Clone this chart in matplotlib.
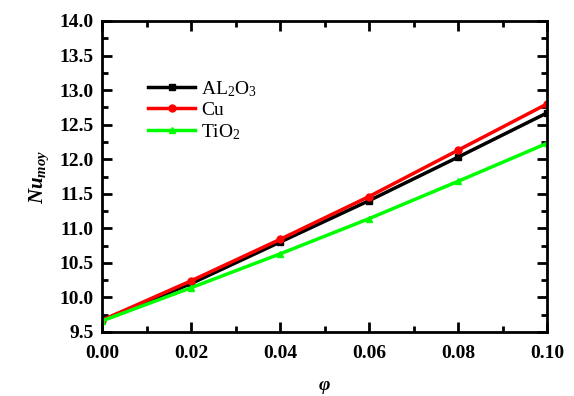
import matplotlib
matplotlib.use("Agg")
import matplotlib.pyplot as plt
from matplotlib.ticker import MultipleLocator

phi = [0.00, 0.02, 0.04, 0.06, 0.08, 0.10]
al2o3 = [9.67, 10.20, 10.80, 11.40, 12.03, 12.67]
cu = [9.67, 10.24, 10.84, 11.46, 12.13, 12.80]
tio2 = [9.66, 10.14, 10.63, 11.14, 11.68, 12.23]

plt.rcParams['font.family'] = ['Liberation Serif', 'DejaVu Serif']
plt.rcParams['mathtext.fontset'] = 'custom'
plt.rcParams['mathtext.rm'] = 'Liberation Serif'
plt.rcParams['mathtext.it'] = 'Liberation Serif:italic:bold'
plt.rcParams['mathtext.bf'] = 'Liberation Serif:bold'

fig = plt.figure(figsize=(5.74, 3.96), dpi=100)
ax = fig.add_axes([102/574, 1-332/396, 445/574, 311/396])

ax.plot(phi, al2o3, color='black', lw=2.5, marker='s', ms=5, label=r'AL$_\mathrm{2}$O$_\mathrm{3}$')
ax.plot(phi, cu, color='red', lw=2.5, marker='o', ms=5, label='Cu')
ax.plot(phi, tio2, color='#00ff00', lw=2.5, marker='^', ms=5, label=r'TiO$_\mathrm{2}$')

ax.set_xlim(0, 0.10)
ax.set_ylim(9.5, 14.0)
ax.xaxis.set_major_locator(MultipleLocator(0.02))
ax.xaxis.set_minor_locator(MultipleLocator(0.01))
ax.yaxis.set_major_locator(MultipleLocator(0.5))
ax.yaxis.set_minor_locator(MultipleLocator(0.25))
ax.tick_params(which='both', direction='in', top=True, right=True, width=2)
ax.tick_params(which='major', length=7, labelsize=14)
ax.tick_params(axis='x', which='major', pad=9)
ax.tick_params(axis='y', which='major', pad=6)
ax.tick_params(which='minor', length=4.5)
for s in ax.spines.values():
    s.set_linewidth(2)
for lab in ax.get_xticklabels() + ax.get_yticklabels():
    lab.set_fontweight('bold')
ax.xaxis.set_major_formatter(plt.FormatStrFormatter('%.2f'))
ax.yaxis.set_major_formatter(plt.FormatStrFormatter('%.1f'))

ax.set_xlabel('φ', fontsize=14, fontweight='bold', style='italic', labelpad=11)
ax.set_ylabel(r'$Nu_{moy}$', fontsize=15, labelpad=6)

leg = ax.legend(loc='upper left', bbox_to_anchor=(0.065, 0.87), frameon=False, fontsize=14,
                handlelength=2.4, labelspacing=0.15, handletextpad=0.3)

fig.savefig('out.png', dpi=100)
